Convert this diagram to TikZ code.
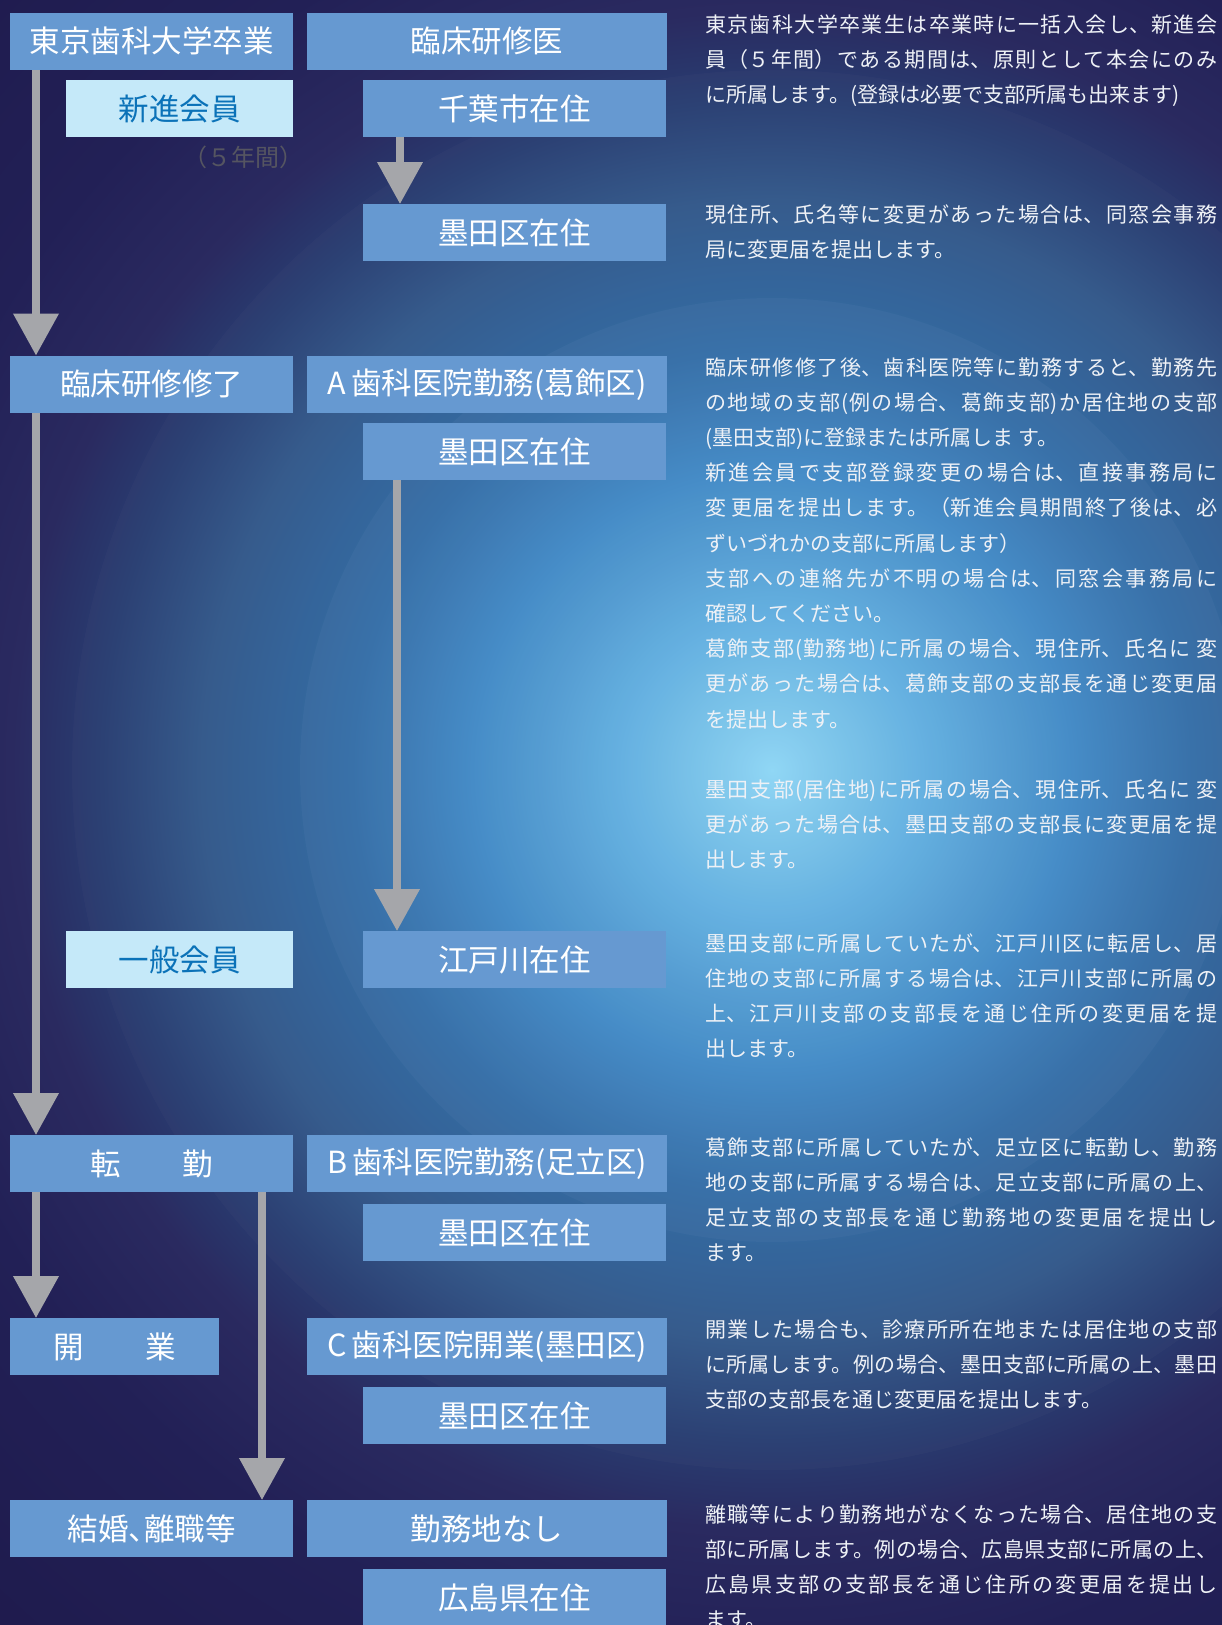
\documentclass[tikz,border=0pt]{standalone}
\usepackage{fontspec}
\setmainfont{Noto Sans CJK JP}
\usetikzlibrary{arrows.meta}
\XeTeXlinebreaklocale "ja"
\XeTeXlinebreakskip=0pt plus 8pt
\definecolor{boxblue}{RGB}{102,153,209}
\definecolor{lightbox}{RGB}{197,233,249}
\definecolor{lighttext}{RGB}{11,114,184}
\definecolor{arrowgray}{RGB}{165,166,170}
\definecolor{termgray}{RGB}{85,85,97}
\definecolor{paratext}{RGB}{238,241,246}
\definecolor{bga}{RGB}{138,214,245}
\definecolor{bgb}{RGB}{124,198,236}
\definecolor{bgc}{RGB}{94,174,224}
\definecolor{bgd}{RGB}{61,134,196}
\definecolor{bge}{RGB}{47,106,165}
\definecolor{bgf}{RGB}{50,88,138}
\definecolor{bgg}{RGB}{40,62,114}
\definecolor{bgh}{RGB}{42,42,96}
\definecolor{bgi}{RGB}{34,32,86}
\definecolor{bgj}{RGB}{30,26,76}
\pgfdeclareradialshading{bgshade}{\pgfpointorigin}{color(0bp)=(bga); color(1.04bp)=(bgb); color(3.125bp)=(bgc); color(6.25bp)=(bgd); color(8.75bp)=(bge); color(11.875bp)=(bgf); color(13.96bp)=(bgg); color(15.83bp)=(bgh); color(18.75bp)=(bgi); color(25bp)=(bgj); color(50bp)=(bgj)}
\newcommand\boxfont{\fontsize{30.5}{34}\selectfont}
\newcommand\parafont{\fontsize{21}{35.2}\selectfont}
\begin{document}
\begin{tikzpicture}[x=1pt,y=1pt,
  box/.style={fill=boxblue, text=white, inner sep=0pt, minimum height=57pt, font=\boxfont, anchor=north west},
  lbox/.style={box, fill=lightbox, text=lighttext},
  wL/.style={minimum width=283pt},
  wSL/.style={minimum width=227pt},
  wM/.style={minimum width=360pt},
  wSR/.style={minimum width=303pt},
  wK/.style={minimum width=209pt},
  arr/.style={draw=arrowgray, line width=7.3pt, -{Triangle[width=44pt,length=42pt]}},
  para/.style={anchor=base west, text width=512pt, inner sep=0pt, text=paratext, font=\parafont, align=justify}]
\useasboundingbox (0,0) rectangle (1222,-1625);
\begin{scope}
\clip (0,0) rectangle (1222,-1625);
\shade[shading=bgshade] (772,-770) circle (1200);
\fill[white,opacity=0.035] (772,-770) circle (472);
\fill[white,opacity=0.02] (772,-770) circle (700);
\end{scope}

% boxes
\node[box,wL] (n1) at (10,-12.5) {東京歯科大学卒業};
\node[box,wM] (n2) at (307,-12.5) {臨床研修医};
\node[lbox,wSL] (n3) at (66,-80) {新進会員};
\node[box,wSR] (n4) at (363,-80) {千葉市在住};
\node[box,wSR] (n5) at (363,-204) {墨田区在住};
\node[box,wL] (n6) at (10,-355.5) {臨床研修修了};
\node[box,wM] (n7) at (307,-355.5) {A\,歯科医院勤務(葛飾区)};
\node[box,wSR] (n8) at (363,-423) {墨田区在住};
\node[lbox,wSL] (n9) at (66,-931) {一般会員};
\node[box,wSR] (n10) at (363,-931) {江戸川在住};
\node[box,wL] (n11) at (10,-1135) {転　　勤};
\node[box,wM] (n12) at (307,-1135) {B\,歯科医院勤務(足立区)};
\node[box,wSR] (n13) at (363,-1204) {墨田区在住};
\node[box,wK] (n14) at (10,-1318) {開　　業};
\node[box,wM] (n15) at (307,-1318) {C\,歯科医院開業(墨田区)};
\node[box,wSR] (n16) at (363,-1387) {墨田区在住};
\node[box,wL] (n17) at (10,-1500) {結婚\makebox[0.5em][l]{、}離職等};
\node[box,wM] (n18) at (307,-1500) {勤務地なし};
\node[box,wSR] (n19) at (363,-1569) {広島県在住};

\node[anchor=east, text=termgray, font=\fontsize{24}{26}\selectfont, inner sep=0pt] (term) at ([xshift=10pt,yshift=-20pt]n3.south east) {（５年間）};

% arrows
\draw[arr] ([xshift=26pt]n1.south west) -- ([xshift=26pt]n6.north west);
\draw[arr] ([xshift=37pt]n4.south west) -- ([xshift=37pt]n5.north west);
\draw[arr] ([xshift=26pt]n6.south west) -- ([xshift=26pt]n11.north west);
\draw[arr] ([xshift=34pt]n8.south west) -- ([xshift=34pt]n10.north west);
\draw[arr] ([xshift=26pt]n11.south west) -- ([xshift=26pt]n14.north west);
\draw[arr] ([xshift=252pt]n11.south west) -- ([xshift=252pt]n17.north west);

% paragraphs
\node[para] (p1) at (705,-32) {\parindent=0pt 東京歯科大学卒業生は卒業時に一括入会し、新進会\linebreak 員（５年間）である期間は、原則として本会にのみ\linebreak に所属します。(登録は必要で支部所属も出来ます)};
\node[para] (p2) at (705,-222) {\parindent=0pt 現住所、氏名等に変更があった場合は、同窓会事務\linebreak 局に変更届を提出します。};
\node[para] (p3) at (705,-375) {\parindent=0pt 臨床研修修了後、歯科医院等に勤務すると、勤務先\linebreak の地域の支部(例の場合、葛飾支部)か居住地の支部\linebreak (墨田支部)に登録または所属しま す。\par
新進会員で支部登録変更の場合は、直接事務局に\linebreak 変 更届を提出します。（新進会員期間終了後は、必\linebreak ずいづれかの支部に所属します）\par
支部への連絡先が不明の場合は、同窓会事務局に\linebreak 確認してください。\par
葛飾支部(勤務地)に所属の場合、現住所、氏名に 変\linebreak 更があった場合は、葛飾支部の支部長を通じ変更届\linebreak を提出します。\par
\mbox{}\par
墨田支部(居住地)に所属の場合、現住所、氏名に 変\linebreak 更があった場合は、墨田支部の支部長に変更届を提\linebreak 出します。};
\node[para] (p4) at (705,-951) {\parindent=0pt 墨田支部に所属していたが、江戸川区に転居し、居\linebreak 住地の支部に所属する場合は、江戸川支部に所属の\linebreak 上、江戸川支部の支部長を通じ住所の変更届を提\linebreak 出します。};
\node[para] (p5) at (705,-1155) {\parindent=0pt 葛飾支部に所属していたが、足立区に転勤し、勤務\linebreak 地の支部に所属する場合は、足立支部に所属の上、\linebreak 足立支部の支部長を通じ勤務地の変更届を提出し\linebreak ます。};
\node[para] (p6) at (705,-1337) {\parindent=0pt 開業した場合も、診療所所在地または居住地の支部\linebreak に所属します。例の場合、墨田支部に所属の上、墨田\linebreak 支部の支部長を通じ変更届を提出します。};
\node[para] (p7) at (705,-1522) {\parindent=0pt 離職等により勤務地がなくなった場合、居住地の支\linebreak 部に所属します。例の場合、広島県支部に所属の上、\linebreak 広島県支部の支部長を通じ住所の変更届を提出し\linebreak ます。};
\end{tikzpicture}
\end{document}
